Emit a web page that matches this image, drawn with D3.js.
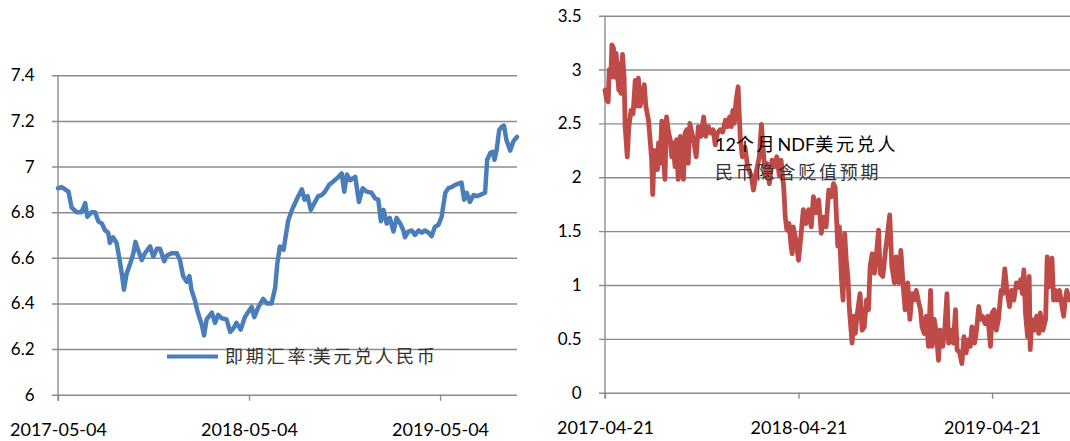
<!DOCTYPE html>
<html>
<head>
<meta charset="utf-8">
<script src="https://cdn.jsdelivr.net/npm/d3@7"></script>
<style>
  html, body { margin: 0; padding: 0; background: #fff; }
  svg { display: block; }
  .grid line { stroke: #8c8c8c; stroke-width: 1.4; }
  .tick text { fill: #000; }
</style>
</head>
<body>
<svg id="chart"></svg>
<script>
// --------------------
// Data
// --------------------
const spotDates = ["2017-05-04","2017-05-11","2017-05-24","2017-05-30","2017-06-09","2017-06-18","2017-06-25","2017-06-29","2017-07-07","2017-07-14","2017-07-20","2017-07-27","2017-08-02","2017-08-08","2017-08-11","2017-08-17","2017-08-24","2017-08-29","2017-09-03","2017-09-07","2017-09-12","2017-09-19","2017-09-25","2017-09-29","2017-10-04","2017-10-11","2017-10-17","2017-10-27","2017-11-02","2017-11-09","2017-11-15","2017-11-23","2017-11-28","2017-12-07","2017-12-17","2017-12-23","2017-12-29","2018-01-05","2018-01-10","2018-01-14","2018-01-21","2018-01-25","2018-01-29","2018-02-03","2018-02-07","2018-02-12","2018-02-22","2018-02-28","2018-03-06","2018-03-13","2018-03-22","2018-03-29","2018-04-04","2018-04-10","2018-04-18","2018-04-26","2018-05-03","2018-05-09","2018-05-14","2018-05-22","2018-05-31","2018-06-07","2018-06-16","2018-06-23","2018-06-27","2018-07-02","2018-07-09","2018-07-12","2018-07-18","2018-07-25","2018-07-31","2018-08-06","2018-08-13","2018-08-18","2018-08-24","2018-08-30","2018-09-06","2018-09-13","2018-09-20","2018-09-26","2018-10-04","2018-10-12","2018-10-22","2018-10-28","2018-11-02","2018-11-07","2018-11-13","2018-11-23","2018-11-30","2018-12-07","2018-12-15","2018-12-24","2018-12-31","2019-01-06","2019-01-11","2019-01-16","2019-01-22","2019-01-28","2019-02-04","2019-02-10","2019-02-17","2019-02-23","2019-02-26","2019-03-04","2019-03-11","2019-03-17","2019-03-24","2019-03-30","2019-04-05","2019-04-12","2019-04-18","2019-04-24","2019-05-01","2019-05-07","2019-05-14","2019-05-20","2019-05-26","2019-06-02","2019-06-08","2019-06-14","2019-06-19","2019-06-24","2019-06-30","2019-07-07","2019-07-13","2019-07-19","2019-07-29","2019-08-02","2019-08-08","2019-08-13","2019-08-16","2019-08-20","2019-08-25","2019-08-30","2019-09-03","2019-09-08","2019-09-15","2019-09-21","2019-09-28"];
const spotRate = [6.905,6.91,6.89,6.82,6.80,6.80,6.84,6.78,6.80,6.80,6.76,6.75,6.72,6.71,6.665,6.69,6.665,6.60,6.53,6.46,6.53,6.575,6.62,6.67,6.635,6.59,6.62,6.65,6.605,6.64,6.64,6.585,6.61,6.62,6.62,6.59,6.52,6.495,6.52,6.46,6.41,6.37,6.34,6.305,6.26,6.33,6.36,6.315,6.35,6.335,6.33,6.275,6.29,6.315,6.285,6.34,6.365,6.385,6.34,6.385,6.42,6.40,6.40,6.47,6.575,6.65,6.635,6.68,6.765,6.81,6.84,6.87,6.90,6.855,6.87,6.81,6.84,6.87,6.875,6.89,6.92,6.935,6.955,6.97,6.89,6.965,6.94,6.955,6.845,6.905,6.89,6.885,6.86,6.855,6.76,6.81,6.75,6.775,6.715,6.775,6.75,6.72,6.69,6.715,6.72,6.70,6.72,6.71,6.72,6.71,6.695,6.735,6.745,6.78,6.885,6.905,6.91,6.92,6.925,6.93,6.855,6.885,6.845,6.875,6.87,6.875,6.885,7.03,7.06,7.065,7.03,7.07,7.16,7.175,7.18,7.115,7.07,7.11,7.13];

const ndfDates = ["2017-04-21","2017-04-24","2017-04-27","2017-04-29","2017-05-02","2017-05-04","2017-05-07","2017-05-09","2017-05-12","2017-05-15","2017-05-17","2017-05-19","2017-05-21","2017-05-24","2017-05-27","2017-05-29","2017-06-02","2017-06-05","2017-06-09","2017-06-13","2017-06-17","2017-06-20","2017-06-23","2017-06-26","2017-06-29","2017-07-04","2017-07-07","2017-07-12","2017-07-15","2017-07-18","2017-07-20","2017-07-23","2017-07-26","2017-07-29","2017-07-31","2017-08-03","2017-08-06","2017-08-09","2017-08-12","2017-08-15","2017-08-19","2017-08-22","2017-08-25","2017-08-28","2017-08-31","2017-09-03","2017-09-06","2017-09-10","2017-09-13","2017-09-16","2017-09-19","2017-09-22","2017-09-25","2017-09-28","2017-10-02","2017-10-06","2017-10-10","2017-10-14","2017-10-19","2017-10-24","2017-10-28","2017-11-02","2017-11-07","2017-11-11","2017-11-15","2017-11-19","2017-11-24","2017-11-29","2017-12-04","2017-12-08","2017-12-12","2017-12-15","2017-12-18","2017-12-21","2017-12-24","2017-12-28","2018-01-01","2018-01-05","2018-01-10","2018-01-15","2018-01-22","2018-01-26","2018-02-01","2018-02-06","2018-02-10","2018-02-14","2018-02-17","2018-02-20","2018-02-25","2018-03-02","2018-03-07","2018-03-11","2018-03-16","2018-03-19","2018-03-24","2018-03-27","2018-03-30","2018-04-03","2018-04-07","2018-04-09","2018-04-11","2018-04-16","2018-04-21","2018-04-26","2018-04-30","2018-05-05","2018-05-10","2018-05-15","2018-05-19","2018-05-24","2018-05-29","2018-06-03","2018-06-07","2018-06-12","2018-06-17","2018-06-22","2018-06-26","2018-06-29","2018-07-04","2018-07-07","2018-07-11","2018-07-14","2018-07-17","2018-07-20","2018-07-23","2018-07-26","2018-07-31","2018-08-03","2018-08-06","2018-08-10","2018-08-15","2018-08-19","2018-08-23","2018-08-27","2018-08-31","2018-09-03","2018-09-07","2018-09-11","2018-09-15","2018-09-19","2018-09-22","2018-09-27","2018-10-02","2018-10-06","2018-10-10","2018-10-14","2018-10-19","2018-10-22","2018-10-27","2018-10-31","2018-11-04","2018-11-08","2018-11-13","2018-11-17","2018-11-21","2018-11-25","2018-11-29","2018-12-04","2018-12-07","2018-12-10","2018-12-14","2018-12-18","2018-12-22","2018-12-26","2018-12-29","2019-01-02","2019-01-06","2019-01-10","2019-01-13","2019-01-18","2019-01-22","2019-01-26","2019-01-29","2019-02-03","2019-02-07","2019-02-11","2019-02-14","2019-02-19","2019-02-23","2019-02-27","2019-03-03","2019-03-07","2019-03-11","2019-03-14","2019-03-19","2019-03-22","2019-03-27","2019-03-30","2019-04-03","2019-04-08","2019-04-13","2019-04-18","2019-04-21","2019-04-25","2019-04-29","2019-05-03","2019-05-08","2019-05-11","2019-05-15","2019-05-19","2019-05-24","2019-05-28","2019-06-01","2019-06-06","2019-06-11","2019-06-14","2019-06-17","2019-06-20","2019-06-23","2019-06-27","2019-06-30","2019-07-02","2019-07-05","2019-07-10","2019-07-14","2019-07-18","2019-07-21","2019-07-26","2019-07-31","2019-08-03","2019-08-06","2019-08-09","2019-08-12","2019-08-15","2019-08-18","2019-08-22","2019-08-26","2019-08-31","2019-09-03","2019-09-06","2019-09-09","2019-09-14"];
const ndfDepreciation = [2.81,2.72,2.70,3.00,2.93,3.23,3.20,2.93,3.15,2.93,2.81,3.06,2.78,3.14,2.93,2.47,2.19,2.47,2.62,2.59,2.90,2.66,2.92,2.66,2.72,2.86,2.66,2.53,2.35,2.16,1.84,2.25,2.19,2.07,2.32,2.13,2.52,2.19,1.98,2.56,2.41,2.35,2.19,2.32,2.10,2.35,1.98,2.38,2.10,1.98,2.41,2.44,2.13,2.50,2.41,2.32,2.19,2.47,2.38,2.56,2.38,2.47,2.41,2.44,2.30,2.41,2.44,2.42,2.53,2.47,2.56,2.47,2.62,2.50,2.70,2.84,2.38,2.19,2.28,2.10,2.01,1.88,2.07,2.19,2.49,2.22,2.01,2.13,1.94,2.16,2.10,2.19,2.01,2.16,1.91,1.63,1.51,1.57,1.36,1.29,1.54,1.42,1.23,1.48,1.70,1.57,1.70,1.54,1.82,1.67,1.79,1.48,1.63,1.54,1.88,1.82,1.94,1.91,1.36,1.54,1.05,0.86,1.48,1.23,1.08,0.77,0.46,0.71,0.55,0.74,0.92,0.58,0.61,0.86,0.77,1.17,1.29,1.11,1.29,1.51,1.11,1.08,1.32,1.48,1.65,1.17,1.02,1.26,1.02,1.32,1.02,0.77,1.02,0.68,0.92,0.86,0.95,0.83,0.77,0.61,0.55,0.71,0.43,0.95,0.43,0.68,0.55,0.30,0.58,0.43,0.61,0.92,0.46,0.58,0.46,0.77,0.40,0.37,0.27,0.52,0.37,0.49,0.43,0.61,0.46,0.55,0.80,0.68,0.71,0.64,0.71,0.43,0.74,0.77,0.58,0.68,0.95,0.92,1.15,0.95,0.80,0.95,0.86,1.02,0.98,1.05,0.92,1.14,0.74,0.52,1.08,0.40,0.68,0.58,0.71,0.55,0.74,0.58,0.68,1.26,0.98,1.17,1.25,0.86,0.95,0.86,0.95,0.80,0.71,0.86,0.95,0.86];

const spotYTicks = [6, 6.2, 6.4, 6.6, 6.8, 7, 7.2, 7.4];
const spotXTicks = ["2017-05-04", "2018-05-04", "2019-05-04"];
const ndfYTicks = [0, 0.5, 1, 1.5, 2, 2.5, 3, 3.5];
const ndfXTicks = ["2017-04-21", "2018-04-21", "2019-04-21"];

const spotLabel = "即期汇率:美元兑人民币";
const ndfLabel = ["12个月NDF美元兑人", "民币隐含贬值预期"];

// --------------------
// Basic setup
// --------------------
const width = 1070;
const height = 441;
const parseDate = d3.timeParse("%Y-%m-%d");
const fmtDate = d3.timeFormat("%Y-%m-%d");
const latin = "Lato, 'Open Sans', sans-serif";
const cjk = "'Noto Sans CJK SC', 'Noto Sans', sans-serif";

const svg = d3.select("#chart")
  .attr("width", width)
  .attr("height", height);

// split mixed text into latin / CJK runs so only CJK gets the wide spacing
function mixedText(sel, str) {
  const runs = str.match(/[\x00-\x7f]+|[^\x00-\x7f]+/g) || [];
  runs.forEach(r => {
    const isLatin = /^[\x00-\x7f]+$/.test(r);
    sel.append("tspan")
      .style("font-family", isLatin ? latin : cjk)
      .style("font-size", isLatin ? "18px" : "18px")
      .style("letter-spacing", isLatin ? "0px" : "2.8px")
      .text(r);
  });
}

function drawPanel(opt) {
  const dates = opt.dates.map(parseDate);
  const x = d3.scaleTime()
    .domain([dates[0], parseDate(opt.endDate)])
    .range([opt.left, opt.right]);
  const y = d3.scaleLinear()
    .domain(d3.extent(opt.yTicks))
    .range([opt.bottom, opt.top]);

  const g = svg.append("g");

  // gridlines + y labels (ticks poke out 6px left of the axis)
  const yAxis = g.append("g")
    .attr("class", "grid")
    .attr("transform", `translate(${opt.left - 6},0)`)
    .call(d3.axisLeft(y)
      .tickValues(opt.yTicks)
      .tickFormat(d => String(d))
      .tickSizeInner(-(opt.right - opt.left + 6))
      .tickSizeOuter(0)
      .tickPadding(17.5));
  yAxis.select(".domain").remove();
  yAxis.selectAll("text")
    .style("font-family", latin)
    .style("font-size", "17px");

  // x axis ticks + labels
  const xAxis = g.append("g")
    .attr("class", "grid")
    .attr("transform", `translate(0,${opt.bottom})`)
    .call(d3.axisBottom(x)
      .tickValues(opt.xTicks.map(parseDate))
      .tickFormat(fmtDate)
      .tickSize(6)
      .tickPadding(23));
  xAxis.select(".domain").remove();
  xAxis.selectAll("text")
    .style("font-family", latin)
    .style("font-size", "18px");

  // vertical axis line
  g.append("line")
    .attr("x1", opt.left).attr("x2", opt.left)
    .attr("y1", opt.top).attr("y2", opt.bottom + 6)
    .attr("stroke", "#8c8c8c")
    .attr("stroke-width", 1.4);

  // series line
  const line = d3.line()
    .x((d, i) => x(dates[i]))
    .y(d => y(d));

  g.append("path")
    .datum(opt.values)
    .attr("fill", "none")
    .attr("stroke", opt.color)
    .attr("stroke-width", opt.lineWidth)
    .attr("stroke-linejoin", "round")
    .attr("stroke-linecap", "round")
    .attr("d", line);

  return { g, x, y };
}

// --------------------
// Left panel: spot rate
// --------------------
const left = drawPanel({
  dates: spotDates, values: spotRate, endDate: "2019-09-28",
  xTicks: spotXTicks, yTicks: spotYTicks,
  left: 58, right: 517, top: 75.3, bottom: 394.7,
  color: "#4a7ebb", lineWidth: 4.5
});

left.g.append("line")
  .attr("x1", 167).attr("x2", 218)
  .attr("y1", 356.5).attr("y2", 356.5)
  .attr("stroke", "#4a7ebb")
  .attr("stroke-width", 4);

left.g.append("text")
  .attr("x", 225)
  .attr("y", 357)
  .attr("dy", "0.35em")
  .attr("fill", "#333")
  .call(t => mixedText(t, spotLabel));

// --------------------
// Right panel: NDF implied depreciation
// --------------------
const right = drawPanel({
  dates: ndfDates, values: ndfDepreciation, endDate: "2019-09-15",
  xTicks: ndfXTicks, yTicks: ndfYTicks,
  left: 605, right: 1070, top: 15.7, bottom: 392.7,
  color: "#be4b48", lineWidth: 4.8
});

right.g.selectAll("text.note")
  .data(ndfLabel)
  .join("text")
    .attr("class", "note")
    .attr("x", 715)
    .attr("y", (d, i) => 145.5 + i * 28)
    .attr("dy", "0.35em")
    .attr("fill", (d, i) => i === 0 ? "#000" : "#333")
    .each(function(d) { mixedText(d3.select(this), d); });
</script>
</body>
</html>
